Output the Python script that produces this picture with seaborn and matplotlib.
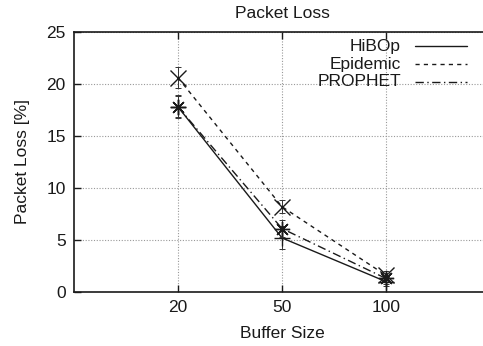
import matplotlib
matplotlib.use("Agg")
import matplotlib.pyplot as plt
from matplotlib.lines import Line2D
import seaborn as sns
import pandas as pd

buffer_sizes = ["20", "50", "100"]
hibop = [17.8, 5.2, 1.0]
epidemic = [20.6, 8.2, 1.6]
prophet = [17.8, 6.1, 1.3]
hibop_err = [1.1, 1.1, 0.4]
epidemic_err = [1.0, 0.6, 0.4]
prophet_err = [1.0, 0.8, 0.5]
series_names = ["HiBOp", "Epidemic", "PROPHET"]

sns.set_theme(style="ticks")
plt.rcParams['font.family'] = ['Liberation Sans', 'DejaVu Sans']

rows = []
for name, vals in zip(series_names, [hibop, epidemic, prophet]):
    for b, v in zip(buffer_sizes, vals):
        rows.append({"Buffer Size": b, "Packet Loss": v, "Protocol": name})
df = pd.DataFrame(rows)

W, H = 483, 346
fig = plt.figure(figsize=(W / 100, H / 100), dpi=100)
ax = fig.add_axes([74/W, 1 - 292/H, 416/W, 260/H])

ink = "#1a1a1a"
line_styles = {"HiBOp": "-", "Epidemic": (0, (3, 3)), "PROPHET": (0, (6, 2.5, 1, 2.5))}
dashes = {"HiBOp": "", "Epidemic": (3, 3), "PROPHET": (6, 2.5, 1, 2.5)}
sns.lineplot(data=df, x="Buffer Size", y="Packet Loss", hue="Protocol", style="Protocol",
             dashes=dashes, palette=[ink] * 3, linewidth=1.0, ax=ax, legend=False,
             sort=False)

markers = {"HiBOp": "+", "Epidemic": "x", "PROPHET": (8, 2, 0)}
for name, vals, errs in zip(series_names, [hibop, epidemic, prophet],
                            [hibop_err, epidemic_err, prophet_err]):
    ax.errorbar(buffer_sizes, vals, yerr=errs, fmt="none", ecolor="#333333",
                elinewidth=0.7, capsize=2.5, capthick=0.7, linestyle=":")
    ax.plot(buffer_sizes, vals, linestyle="none", marker=markers[name], ms=11,
            mew=1.0, color=ink)

ax.set_xlim(-1, 3)
ax.set_ylim(0, 25)
ax.set_yticks([0, 5, 10, 15, 20, 25])
ax.grid(True, linestyle=(0, (1, 1.5)), color="#999999", linewidth=0.8)
ax.tick_params(direction="in", top=True, right=True, labelsize=12.5, length=5,
               width=1.0, colors=ink, labelcolor=ink, pad=6)
for s in ax.spines.values():
    s.set_linewidth(1.2)
    s.set_color(ink)

ax.set_xlabel("Buffer Size", fontsize=12.5, color=ink, labelpad=8)
ax.set_ylabel("Packet Loss [%]", fontsize=12.5, color=ink, labelpad=12)
ax.set_title("Packet Loss", fontsize=12.5, color=ink, pad=10)

# gnuplot-style key: right-aligned text then line sample
row_y = [46, 64, 82]
for name, yy in zip(series_names, row_y):
    fig.text(401/W, 1 - yy/H, name, ha="right", va="center", fontsize=12.5, color=ink)
    fig.add_artist(Line2D([415/W, 467/W], [1 - yy/H, 1 - yy/H], color=ink, lw=1.0,
                          linestyle=line_styles[name]))

fig.savefig("out.png", dpi=100)
